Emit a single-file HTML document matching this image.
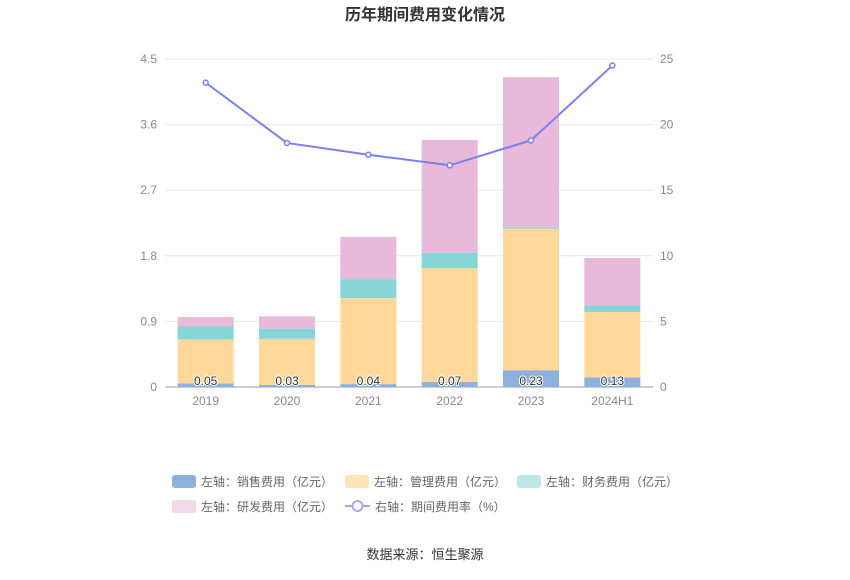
<!DOCTYPE html>
<html><head><meta charset="utf-8">
<style>
body{margin:0;background:#fff;font-family:"Liberation Sans","Noto Sans CJK SC",sans-serif;}
svg text{font-family:"Liberation Sans","Noto Sans CJK SC",sans-serif;}
</style></head>
<body>
<svg id="chart" width="850" height="575" xmlns="http://www.w3.org/2000/svg">
<text x="425" y="20" text-anchor="middle" font-size="16" font-weight="bold" fill="#333">历年期间费用变化情况</text>
<g id="grid"></g><g id="bars"></g><g id="line"></g><g id="axes"></g>
<g id="legend" font-size="12" fill="#666">
 <g><rect x="172" y="475" width="24" height="13" rx="3" fill="#8eb0dc"/><text x="201" y="486">左轴：销售费用（亿元）</text></g>
 <g><rect x="345" y="475" width="24" height="13" rx="3" fill="#ffe4b8"/><text x="374" y="486">左轴：管理费用（亿元）</text></g>
 <g><rect x="517" y="475" width="24" height="13" rx="3" fill="#bde8ea"/><text x="546" y="486">左轴：财务费用（亿元）</text></g>
 <g><rect x="172" y="500" width="24" height="13" rx="3" fill="#f3d9ea"/><text x="201" y="511">左轴：研发费用（亿元）</text></g>
 <g><line x1="345" y1="506" x2="370" y2="506" stroke="#a4a8f5" stroke-width="2"/><circle cx="357.5" cy="506" r="5" fill="#fff" stroke="#a4a8f5" stroke-width="2"/><text x="375" y="511">右轴：期间费用率（%）</text></g>
</g>
<text x="425" y="559" text-anchor="middle" font-size="13" fill="#333">数据来源：恒生聚源</text>
</svg>
<script>
const categories=["2019","2020","2021","2022","2023","2024H1"];
const sales=[0.05,0.03,0.04,0.07,0.23,0.13];
const management=[0.6,0.63,1.18,1.56,1.94,0.90];
const finance=[0.18,0.14,0.26,0.21,0.02,0.09];
const rd=[0.13,0.17,0.58,1.55,2.06,0.65];
const rate=[23.2,18.6,17.7,16.9,18.8,24.5];
const leftTicks=["0","0.9","1.8","2.7","3.6","4.5"];
const rightTicks=["0","5","10","15","20","25"];
const salesLabels=["0.05","0.03","0.04","0.07","0.23","0.13"];

const NS="http://www.w3.org/2000/svg";
const top0=59,bot=387,x0=165,x1=653;
const yL=v=>bot-(v/4.5)*(bot-top0);
const yR=v=>bot-(v/25)*(bot-top0);
const step=(x1-x0)/categories.length;
const xC=i=>x0+step*(i+0.5);
function mk(tag,attrs,parent){const e=document.createElementNS(NS,tag);for(const k in attrs)e.setAttribute(k,attrs[k]);document.getElementById(parent).appendChild(e);return e;}

leftTicks.forEach((t,i)=>{
 const y=yL(+t);
 const g=mk("line",{x1:x0,x2:x1,y1:y,y2:y,stroke:i==0?"#999":"#e6e8ee","stroke-width":1},"grid");
 
 
 const l=mk("text",{x:157,y:y+4,"text-anchor":"end","font-size":12,fill:"#888"},"axes");l.textContent=t;
 
 
});
rightTicks.forEach(t=>{
 const r=mk("text",{x:660,y:yR(+t)+4,"font-size":12,fill:"#888"},"axes");r.textContent=t;
 
 
});
categories.forEach((c,i)=>{
 const t=mk("text",{x:xC(i),y:405,"text-anchor":"middle","font-size":12,fill:"#888"},"axes");t.textContent=c;
 
 
});
const series=[[sales,"#8eb0dc"],[management,"#ffd899"],[finance,"#86d5d7"],[rd,"#e8b9d8"]];
const bw=56;
categories.forEach((c,i)=>{
 let acc=0;
 series.forEach(([arr,col])=>{
  const y0=yL(acc),y1=yL(acc+arr[i]);acc+=arr[i];
  const r=mk("rect",{x:xC(i)-bw/2,y:y1,width:bw,height:Math.max(0,y0-y1),fill:col},"bars");
  
  
 });
 const lb=mk("text",{x:xC(i),y:bot-2,"text-anchor":"middle","font-size":12,fill:"#333",stroke:"#fff","stroke-width":2,"paint-order":"stroke"},"bars");lb.textContent=salesLabels[i];
 
 
});
const pts=rate.map((v,i)=>xC(i)+","+yR(v)).join(" ");
const pl=mk("polyline",{points:pts,fill:"none",stroke:"#7b7ff0","stroke-width":2},"line");


rate.forEach((v,i)=>{
 const p=mk("circle",{cx:xC(i),cy:yR(v),r:2.5,fill:"#fff",stroke:"#7b7ff0","stroke-width":1.5},"line");
 
 
});
</script>
</body></html>
